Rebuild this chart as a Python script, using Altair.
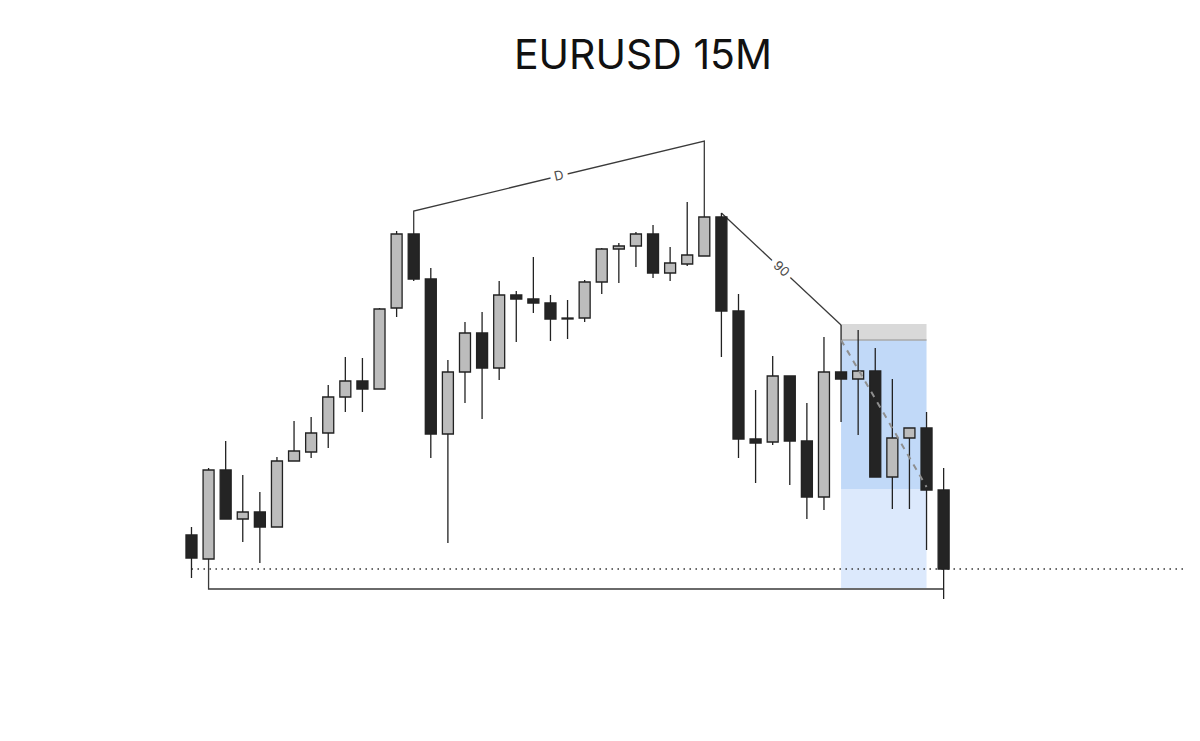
import altair as alt
import pandas as pd

# ---- candle data (EURUSD, 15 minute) ----
opens = [1.08565, 1.08541, 1.08630, 1.08581, 1.08588, 1.08573, 1.08639, 1.08648, 1.08667, 1.08703,
         1.08719, 1.08711, 1.08792, 1.08866, 1.08821, 1.08666, 1.08728, 1.08767, 1.08732, 1.08805,
         1.08801, 1.08797, 1.08782, 1.08782, 1.08818, 1.08851, 1.08854, 1.08866, 1.08827, 1.08836,
         1.08844, 1.08883, 1.08789, 1.08661, 1.08658, 1.08724, 1.08659, 1.08603, 1.08728, 1.08721,
         1.08729, 1.08623, 1.08662, 1.08672, 1.08610]
highs = [1.08573, 1.08632, 1.08659, 1.08625, 1.08608, 1.08643, 1.08679, 1.08683, 1.08715, 1.08743,
         1.08742, 1.08792, 1.08869, 1.08866, 1.08832, 1.08740, 1.08778, 1.08788, 1.08819, 1.08809,
         1.08843, 1.08805, 1.08800, 1.08820, 1.08852, 1.08857, 1.08868, 1.08875, 1.08853, 1.08898,
         1.08883, 1.08887, 1.08806, 1.08710, 1.08744, 1.08724, 1.08697, 1.08763, 1.08775, 1.08770,
         1.08752, 1.08721, 1.08672, 1.08688, 1.08632]
lows = [1.08522, 1.08541, 1.08581, 1.08558, 1.08537, 1.08573, 1.08639, 1.08642, 1.08652, 1.08688,
        1.08688, 1.08711, 1.08783, 1.08819, 1.08642, 1.08557, 1.08697, 1.08681, 1.08720, 1.08758,
        1.08787, 1.08759, 1.08761, 1.08778, 1.08806, 1.08817, 1.08833, 1.08822, 1.08819, 1.08834,
        1.08844, 1.08743, 1.08642, 1.08617, 1.08655, 1.08615, 1.08581, 1.08590, 1.08678, 1.08665,
        1.08623, 1.08591, 1.08591, 1.08550, 1.08501]
closes = [1.08542, 1.08630, 1.08581, 1.08588, 1.08573, 1.08639, 1.08649, 1.08667, 1.08703, 1.08719,
          1.08711, 1.08791, 1.08866, 1.08821, 1.08666, 1.08728, 1.08767, 1.08732, 1.08805, 1.08801,
          1.08797, 1.08781, 1.08781, 1.08818, 1.08851, 1.08854, 1.08866, 1.08827, 1.08837, 1.08845,
          1.08883, 1.08789, 1.08661, 1.08657, 1.08724, 1.08659, 1.08603, 1.08728, 1.08721, 1.08729,
          1.08623, 1.08662, 1.08672, 1.08610, 1.08531]

# ---- annotation data ----
d_idx = [13, 13, 30, 30]
d_price = [1.08866, 1.08889, 1.08959, 1.08883]
n90_idx = [31, 38]
n90_price = [1.08887, 1.08775]

zone_idx = [38, 43]
zone_stop = 1.08776
zone_entry = 1.08760
zone_mid = 1.08611
zone_target = 1.08512

dash_idx = [38, 43]
dash_price = [1.08760, 1.08613]

dotted_price = 1.08531
bracket_idx = [1, 1, 44]
bracket_price = [1.08541, 1.08511, 1.08511]

X_DOMAIN = [-10.441, 58.237]
Y_DOMAIN = [1.08377, 1.08992]

xs = alt.Scale(domain=X_DOMAIN, nice=False, zero=False)
ys = alt.Scale(domain=Y_DOMAIN, nice=False, zero=False)

candles = pd.DataFrame({
    "idx": list(range(len(opens))),
    "open": opens, "high": highs, "low": lows, "close": closes,
})
candles["dir"] = ["up" if c >= o else "down" for o, c in zip(opens, closes)]

lines = pd.DataFrame(
    [{"g": "D", "o": i, "idx": x, "p": p} for i, (x, p) in enumerate(zip(d_idx, d_price))]
    + [{"g": "90", "o": i, "idx": x, "p": p} for i, (x, p) in enumerate(zip(n90_idx, n90_price))]
    + [{"g": "br", "o": i, "idx": x, "p": p} for i, (x, p) in enumerate(zip(bracket_idx, bracket_price))]
)

labels = pd.DataFrame({
    "t": ["D", "90"],
    "idx": [(d_idx[1] + d_idx[2]) / 2, (n90_idx[0] + n90_idx[1]) / 2],
    "p": [(d_price[1] + d_price[2]) / 2, (n90_price[0] + n90_price[1]) / 2],
    "ang": [347, 43],
})

zones = pd.DataFrame({
    "x1": [zone_idx[0]] * 3, "x2": [zone_idx[1]] * 3,
    "y1": [zone_stop, zone_entry, zone_mid],
    "y2": [zone_entry, zone_mid, zone_target],
    "c": ["#d9d9d9", "#c1d9f8", "#dce9fc"],
})

dash = pd.DataFrame({"idx": dash_idx, "p": dash_price})
dotted = pd.DataFrame({"idx": [0, X_DOMAIN[1]], "p": [dotted_price, dotted_price]})
entry_rule = pd.DataFrame({"x1": [zone_idx[0]], "x2": [zone_idx[1]], "p": [zone_entry]})

zone_layer = alt.Chart(zones).mark_rect().encode(
    x=alt.X("x1:Q", scale=xs, axis=None), x2="x2:Q",
    y=alt.Y("y1:Q", scale=ys, axis=None), y2="y2:Q",
    color=alt.Color("c:N", scale=None),
)
entry_layer = alt.Chart(entry_rule).mark_rule(color="#a8a8a8", strokeWidth=1.5).encode(
    x=alt.X("x1:Q", scale=xs, axis=None), x2="x2:Q",
    y=alt.Y("p:Q", scale=ys, axis=None),
)
dotted_layer = alt.Chart(dotted).mark_line(color="#333", strokeWidth=1.5, strokeDash=[1.5, 4.5]).encode(
    x=alt.X("idx:Q", scale=xs, axis=None), y=alt.Y("p:Q", scale=ys, axis=None),
)
line_layer = alt.Chart(lines).mark_line(color="#3a3a3a", strokeWidth=1.3).encode(
    x=alt.X("idx:Q", scale=xs, axis=None), y=alt.Y("p:Q", scale=ys, axis=None),
    detail="g:N", order="o:Q",
)
halo_layer = alt.Chart(labels).mark_text(
    font="Inter", fontSize=13, color="white", stroke="white", strokeWidth=10
).encode(
    x=alt.X("idx:Q", scale=xs, axis=None), y=alt.Y("p:Q", scale=ys, axis=None),
    text="t:N", angle=alt.Angle("ang:Q", scale=None),
)
label_layer = alt.Chart(labels).mark_text(font="Inter", fontSize=13, color="#4a4a4a").encode(
    x=alt.X("idx:Q", scale=xs, axis=None), y=alt.Y("p:Q", scale=ys, axis=None),
    text="t:N", angle=alt.Angle("ang:Q", scale=None),
)
wick_layer = alt.Chart(candles).mark_rule(color="#222", strokeWidth=1.3).encode(
    x=alt.X("idx:Q", scale=xs, axis=None),
    y=alt.Y("low:Q", scale=ys, axis=None), y2="high:Q",
)
body_layer = alt.Chart(candles).mark_bar(size=11, stroke="#222", strokeWidth=1.3).encode(
    x=alt.X("idx:Q", scale=xs, axis=None),
    y=alt.Y("open:Q", scale=ys, axis=None), y2="close:Q",
    color=alt.Color("dir:N", scale=alt.Scale(domain=["up", "down"], range=["#bcbcbc", "#242424"]), legend=None),
)
dash_layer = alt.Chart(dash).mark_line(color="#8f8f8f", strokeWidth=2, strokeDash=[6, 6]).encode(
    x=alt.X("idx:Q", scale=xs, axis=None), y=alt.Y("p:Q", scale=ys, axis=None),
)

chart = alt.layer(
    zone_layer, entry_layer, dotted_layer, line_layer, halo_layer, label_layer,
    wick_layer, body_layer, dash_layer,
).properties(
    width=1184, height=615,
    title=alt.TitleParams("EURUSD 15M", fontSize=41, font="Inter", fontWeight="normal",
                          color="#111", anchor="middle", offset=30, dx=43),
    autosize=alt.AutoSizeParams(type="none"),
    padding={"left": 0, "top": 100, "right": 0, "bottom": 0},
).configure_view(stroke=None)

chart.save("out.html", embed_options={"renderer": "svg", "actions": False})
